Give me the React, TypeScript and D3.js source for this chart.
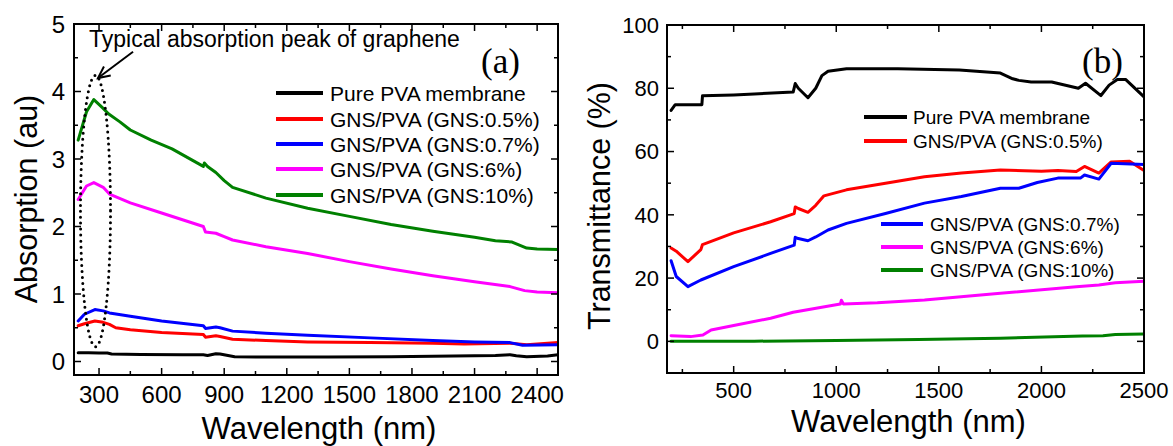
import React from "react";
import * as d3 from "d3";

type Pt = [number, number];

// ---------- Panel (a): absorption ----------
const absPure: Pt[] = [[200,0.13],[250,0.13],[300,0.125],[340,0.125],[360,0.11],[500,0.105],[700,0.1],[800,0.1],[820,0.09],[860,0.115],[880,0.11],[950,0.07],[1100,0.065],[1400,0.065],[1700,0.07],[2000,0.08],[2200,0.09],[2270,0.1],[2300,0.085],[2350,0.07],[2450,0.08],[2500,0.1]];
const absGns05: Pt[] = [[200,0.53],[230,0.56],[280,0.6],[320,0.58],[350,0.55],[380,0.5],[450,0.47],[600,0.43],[800,0.4],[810,0.36],[860,0.38],[880,0.37],[940,0.33],[1100,0.31],[1300,0.29],[1600,0.28],[1900,0.27],[2050,0.26],[2270,0.27],[2350,0.25],[2500,0.28]];
const absGns07: Pt[] = [[200,0.6],[230,0.7],[280,0.77],[320,0.75],[350,0.72],[450,0.67],[600,0.6],[800,0.53],[810,0.49],[860,0.51],[880,0.5],[940,0.45],[1100,0.42],[1300,0.39],[1600,0.35],[1900,0.31],[2100,0.29],[2270,0.28],[2330,0.24],[2500,0.25]];
const absGns6: Pt[] = [[200,2.4],[240,2.6],[275,2.65],[320,2.58],[350,2.48],[450,2.35],[600,2.2],[700,2.1],[800,2.0],[810,1.92],[860,1.9],[900,1.85],[940,1.8],[1100,1.7],[1300,1.6],[1500,1.48],[1700,1.37],[1900,1.27],[2100,1.18],[2270,1.11],[2340,1.05],[2400,1.03],[2500,1.02]];
const absGns10: Pt[] = [[200,3.28],[240,3.7],[275,3.88],[320,3.75],[345,3.67],[400,3.55],[450,3.43],[550,3.28],[650,3.15],[800,2.89],[805,2.94],[820,2.89],[860,2.8],[900,2.68],[940,2.58],[1100,2.42],[1300,2.27],[1500,2.15],[1700,2.03],[1900,1.93],[2100,1.84],[2200,1.79],[2280,1.77],[2350,1.68],[2400,1.665],[2500,1.66]];

// ---------- Panel (b): transmittance ----------
const trPure: Pt[] = [[195,73],[215,74.8],[345,74.8],[348,77.6],[500,77.9],[600,78.2],[790,78.8],[800,81.5],[815,80],[862,77],[900,80],[930,84],[960,85.4],[1050,86.2],[1300,86.2],[1600,85.8],[1800,84.8],[1860,83],[1890,82.5],[1950,82],[2050,82],[2180,80],[2215,81.6],[2290,77.7],[2330,81],[2370,82.8],[2410,82.8],[2500,77.3]];
const trGns05: Pt[] = [[195,29.5],[220,28.5],[277,25.2],[340,29],[348,30.6],[500,34.3],[680,37.8],[795,40.4],[800,42.5],[815,42],[862,40.8],[900,43],[940,46],[1050,47.9],[1240,50],[1430,52],[1610,53.2],[1800,54.2],[2000,53.8],[2080,54],[2170,53.7],[2210,55.3],[2280,53.2],[2340,56.7],[2430,56.9],[2500,54]];
const trGns07: Pt[] = [[195,25.5],[220,20.5],[277,17.3],[340,19.4],[500,23.6],[680,27.8],[795,30.4],[800,32.9],[815,32.5],[862,31.8],[900,33],[960,35.2],[1050,37.3],[1240,40.4],[1430,43.7],[1610,45.8],[1800,48.4],[1890,48.4],[1980,50.2],[2080,51.6],[2190,51.6],[2210,52.6],[2280,51.3],[2340,56.3],[2500,55.9]];
const trGns6: Pt[] = [[195,1.8],[290,1.5],[350,2],[390,3.6],[500,5],[680,7.3],[790,9.2],[1020,11.8],[1025,13],[1035,11.8],[1200,12.2],[1430,13.1],[1800,15.2],[2170,17.3],[2280,17.8],[2360,18.5],[2500,19]];
const trGns10: Pt[] = [[195,0],[600,0.05],[1000,0.3],[1400,0.6],[1800,1.0],[2200,1.7],[2300,1.8],[2360,2.2],[2500,2.3]];

const seriesNames = ["Pure PVA membrane", "GNS/PVA (GNS:0.5%)", "GNS/PVA (GNS:0.7%)", "GNS/PVA (GNS:6%)", "GNS/PVA (GNS:10%)"];
const seriesColors = ["#000000", "#ff0000", "#0000ff", "#ff00ff", "#008000"];

const absXTicks = [300, 600, 900, 1200, 1500, 1800, 2100, 2400];
const absYTicks = [0, 1, 2, 3, 4, 5];
const trXTicks = [500, 1000, 1500, 2000, 2500];
const trYTicks = [0, 20, 40, 60, 80, 100];

const FONT = "'Liberation Sans', Arial, sans-serif";

interface PanelProps {
  frame: { x0: number; x1: number; y0: number; y1: number };
  xDomain: [number, number];
  yDomain: [number, number];
  xTicks: number[];
  yTicks: number[];
  xMinorStep: number;
  yMinorStep: number;
  tickFont: number;
  xLabelY: number;
  yLabelX: number;
  series: Pt[][];
  yTitle: string;
  yTitleX: number;
  yTitleY: number;
  xTitleY: number;
  children?: (x: d3.ScaleLinear<number, number>, y: d3.ScaleLinear<number, number>) => React.ReactNode;
}

function Panel(p: PanelProps) {
  const { frame } = p;
  const x = d3.scaleLinear().domain(p.xDomain).range([frame.x0, frame.x1]);
  const y = d3.scaleLinear().domain(p.yDomain).range([frame.y1, frame.y0]);
  const line = d3.line<Pt>().x((d) => x(d[0])).y((d) => y(d[1]));
  const xMinor: number[] = [];
  for (let v = Math.ceil(p.xDomain[0] / p.xMinorStep) * p.xMinorStep; v <= p.xDomain[1] + 1e-6; v += p.xMinorStep) xMinor.push(v);
  const yMinor: number[] = [];
  for (let v = Math.ceil(p.yDomain[0] / p.yMinorStep) * p.yMinorStep; v <= p.yDomain[1] + 1e-6; v += p.yMinorStep) yMinor.push(+v.toFixed(4));
  const isMajorX = (v: number) => p.xTicks.some((t) => Math.abs(t - v) < 1e-6);
  const isMajorY = (v: number) => p.yTicks.some((t) => Math.abs(t - v) < 1e-6);
  const cx = (frame.x0 + frame.x1) / 2;
  return (
    <g>
      <clipPath id={`clip${frame.x0}`}>
        <rect x={frame.x0} y={frame.y0} width={frame.x1 - frame.x0} height={frame.y1 - frame.y0} />
      </clipPath>
      <g clipPath={`url(#clip${frame.x0})`}>
        {p.series.map((s, i) => (
          <path key={i} d={line(s) || ""} fill="none" stroke={seriesColors[i]} strokeWidth={3} strokeLinejoin="round" strokeLinecap="round" />
        ))}
      </g>
      {xMinor.map((v) => {
        const len = isMajorX(v) ? 7 : 4;
        return (
          <g key={"xt" + v}>
            <line x1={x(v)} x2={x(v)} y1={frame.y1} y2={frame.y1 - len} stroke="#000" strokeWidth={1.5} />
            <line x1={x(v)} x2={x(v)} y1={frame.y0} y2={frame.y0 + len} stroke="#000" strokeWidth={1.5} />
          </g>
        );
      })}
      {yMinor.map((v) => {
        const len = isMajorY(v) ? 7 : 4;
        return (
          <g key={"yt" + v}>
            <line x1={frame.x0} x2={frame.x0 + len} y1={y(v)} y2={y(v)} stroke="#000" strokeWidth={1.5} />
            <line x1={frame.x1} x2={frame.x1 - len} y1={y(v)} y2={y(v)} stroke="#000" strokeWidth={1.5} />
          </g>
        );
      })}
      <rect x={frame.x0} y={frame.y0} width={frame.x1 - frame.x0} height={frame.y1 - frame.y0} fill="none" stroke="#000" strokeWidth={2} />
      {p.xTicks.map((v) => (
        <text key={"xl" + v} x={x(v)} y={p.xLabelY} textAnchor="middle" fontSize={p.tickFont} fontFamily={FONT}>{v}</text>
      ))}
      {p.yTicks.map((v) => (
        <text key={"yl" + v} x={p.yLabelX} y={y(v)} dy="0.36em" textAnchor="end" fontSize={p.tickFont} fontFamily={FONT}>{v}</text>
      ))}
      <text x={cx + 3} y={p.xTitleY} textAnchor="middle" fontSize={31} fontFamily={FONT}>Wavelength (nm)</text>
      <text transform={`translate(${p.yTitleX},${p.yTitleY}) rotate(-90)`} textAnchor="middle" fontSize={30.5} fontFamily={FONT}>{p.yTitle}</text>
      {p.children && p.children(x, y)}
    </g>
  );
}

function Legend({ items, x1, x2, tx, ys, font }: { items: number[]; x1: number; x2: number; tx: number; ys: number[]; font: number }) {
  return (
    <g>
      {items.map((idx, i) => (
        <g key={idx}>
          <line x1={x1} x2={x2} y1={ys[i]} y2={ys[i]} stroke={seriesColors[idx]} strokeWidth={4} />
          <text x={tx} y={ys[i]} dy="0.36em" fontSize={font} fontFamily={FONT}>{seriesNames[idx]}</text>
        </g>
      ))}
    </g>
  );
}

export default function App() {
  return (
    <svg width={1173} height={446} style={{ position: "absolute", left: 0, top: 0, background: "#fff" }}>
      <rect width={1173} height={446} fill="#fff" />
      <Panel
        frame={{ x0: 74, x1: 558, y0: 24, y1: 375 }}
        xDomain={[180, 2500]}
        yDomain={[-0.2, 5]}
        xTicks={absXTicks}
        yTicks={absYTicks}
        xMinorStep={150}
        yMinorStep={0.5}
        tickFont={24}
        xLabelY={403}
        yLabelX={65}
        series={[absPure, absGns05, absGns07, absGns6, absGns10]}
        yTitle="Absorption (au)"
        yTitleX={37}
        yTitleY={199}
        xTitleY={439}
      >
        {(x, y) => {
          const tipX = x(295), tipY = y(4.2);
          const tailX = x(463), tailY = y(4.59);
          const ang = Math.atan2(tailY - tipY, tailX - tipX);
          const w = 13, a = 0.45;
          return (
            <g>
              <ellipse cx={x(283)} cy={y(2.23)} rx={x(283) - x(211)} ry={y(0.22) - y(2.23)} fill="none" stroke="#000" strokeWidth={3} strokeDasharray="0 6" strokeLinecap="round" />
              <line x1={tailX} y1={tailY} x2={tipX} y2={tipY} stroke="#000" strokeWidth={2} />
              <polyline points={`${tipX + w * Math.cos(ang - a)},${tipY + w * Math.sin(ang - a)} ${tipX},${tipY} ${tipX + w * Math.cos(ang + a)},${tipY + w * Math.sin(ang + a)}`} fill="none" stroke="#000" strokeWidth={2} />
              <text x={x(252)} y={y(4.66)} fontSize={23} fontFamily={FONT}>Typical absorption peak of graphene</text>
            </g>
          );
        }}
      </Panel>
      <text x={481} y={73} fontSize={35} fontFamily="'Liberation Serif', 'Times New Roman', serif">(a)</text>
      <Legend items={[0, 1, 2, 3, 4]} x1={276} x2={323} tx={330} ys={[93, 119, 144, 169, 195]} font={21} />

      <Panel
        frame={{ x0: 667, x1: 1144, y0: 25, y1: 373 }}
        xDomain={[175, 2500]}
        yDomain={[-10, 100]}
        xTicks={trXTicks}
        yTicks={trYTicks}
        xMinorStep={250}
        yMinorStep={10}
        tickFont={22}
        xLabelY={398}
        yLabelX={659}
        series={[trPure, trGns05, trGns07, trGns6, trGns10]}
        yTitle="Transmittance (%)"
        yTitleX={610}
        yTitleY={206}
        xTitleY={432}
      />
      <text x={1082} y={73} fontSize={35} fontFamily="'Liberation Serif', 'Times New Roman', serif">(b)</text>
      <Legend items={[0, 1]} x1={864} x2={907} tx={913} ys={[117, 141]} font={19} />
      <Legend items={[2, 3, 4]} x1={881} x2={923} tx={930} ys={[224, 247, 270]} font={19} />
    </svg>
  );
}
